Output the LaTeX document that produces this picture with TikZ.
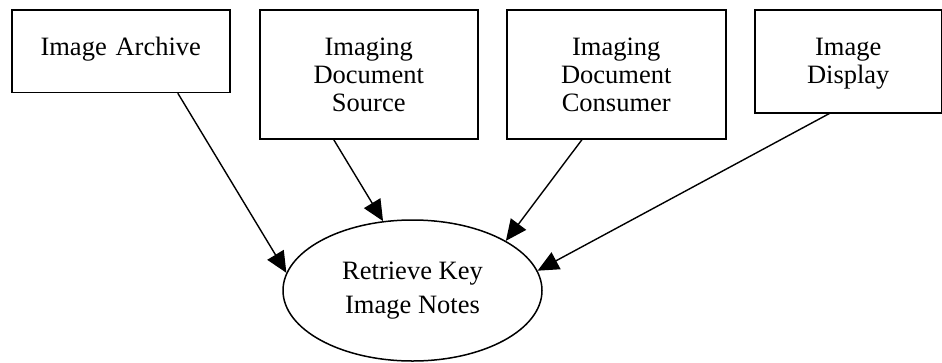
\documentclass[tikz,border=0pt]{standalone}
\usepackage{fontspec}
\setmainfont{Liberation Serif}
\usepackage{tikz}
\usetikzlibrary{calc, arrows.meta, shapes.geometric}

\begin{document}
\begin{tikzpicture}[x=1pt, y=-1pt,
        % Define a style for the actor boxes
        actor/.style={draw, line width=1.5pt, rectangle, anchor=north west, inner xsep=0pt, inner ysep=0pt,
            align=center, text height=46pt, font=\fontsize{26.5}{27.7}\selectfont},
        % Define a style for the use case
        usecase/.style={draw, line width=1.5pt, ellipse, inner sep=0pt, minimum width=259pt, minimum height=141pt,
            align=center, font=\fontsize{26.5}{34}\selectfont},
        % Define a style for the arrows
        link/.style={line width=1.4pt, -{Triangle[length=21pt, width=19pt]}}]

        \useasboundingbox (0,0) rectangle (942,362);

        % 1. The four actors along the top
        \node[actor, text width=218pt, text depth=36.7pt] (arch) at (11,9) {Image Archive};
        \node[actor, text width=218pt, text depth=83pt] (src) at (259,9) {Imaging\\Document\\Source};
        \node[actor, text width=219pt, text depth=83pt] (cons) at (506,9) {Imaging\\Document\\Consumer};
        \node[actor, text width=187pt, text depth=57pt] (disp) at (754,9) {Image\\Display};

        % 2. The use case
        \node[usecase] (retr) at (412.5,290.5) {Retrieve Key\\Image Notes};

        % 3. Arrows from each actor to the use case
        \draw[link] ($(arch.south west)!0.76!(arch.south east)$) -- (retr.172);
        \draw[link] ($(src.south west)!0.34!(src.south east)$) -- (retr.113.6);
        \draw[link] ($(cons.south west)!0.345!(cons.south east)$) -- (retr.28.2);
        \draw[link] ($(disp.south west)!0.40!(disp.south east)$) -- (retr.9.6);

    \end{tikzpicture}
\end{document}
